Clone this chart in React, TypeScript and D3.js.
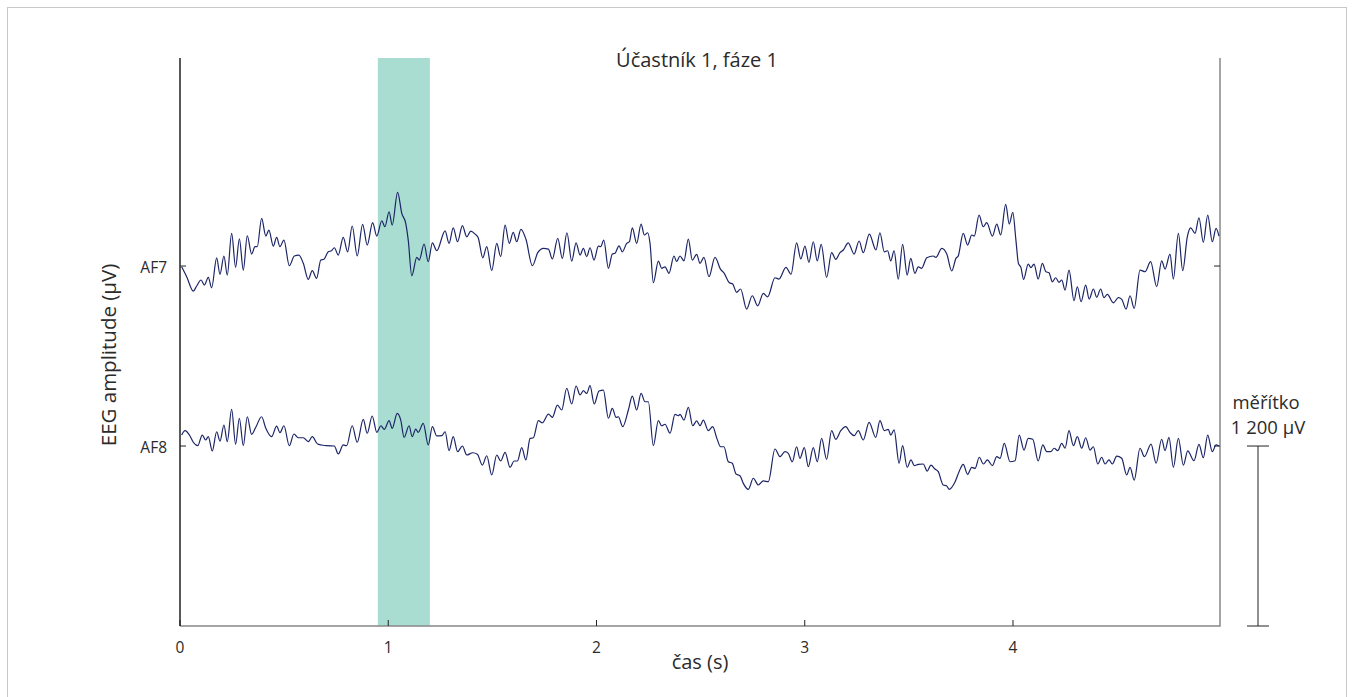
import React, { useEffect, useRef } from "react"
import * as d3 from "d3"

// EEG traces, [time (s), amplitude (µV)]
const af7: [number, number][] = [
  [0.008, -5], [0.032, -71], [0.064, -167], [0.080, -133], [0.101, -93], [0.117, -127], [0.136, -75], [0.152, -145],
  [0.176, 55], [0.192, -55], [0.211, 67], [0.227, -60], [0.248, 218], [0.267, -9], [0.285, 182], [0.304, -27],
  [0.323, 202], [0.344, 80], [0.360, 129], [0.371, 129], [0.392, 318], [0.412, 200], [0.427, 240], [0.448, 133],
  [0.464, 191], [0.480, 129], [0.499, 173], [0.525, 2], [0.549, 67], [0.571, 73], [0.592, 18], [0.616, -89],
  [0.635, -31], [0.656, -82], [0.676, 40], [0.691, 45], [0.712, 95], [0.728, 102], [0.741, 122], [0.760, 73],
  [0.784, 191], [0.805, 95], [0.827, 267], [0.851, 67], [0.877, 278], [0.899, 140], [0.925, 289], [0.945, 200],
  [0.969, 302], [0.984, 262], [1.004, 362], [1.019, 273], [1.045, 491], [1.065, 351], [1.084, 285], [1.096, 173],
  [1.113, -65], [1.137, 58], [1.149, 40], [1.172, 147], [1.192, 29], [1.212, 155], [1.233, 102], [1.273, 235],
  [1.292, 151], [1.312, 255], [1.333, 162], [1.356, 269], [1.377, 195], [1.396, 233], [1.417, 213], [1.432, 189],
  [1.454, 55], [1.473, 129], [1.497, -31], [1.521, 151], [1.540, 62], [1.561, 273], [1.581, 151], [1.600, 225],
  [1.617, 162], [1.637, 245], [1.661, 180], [1.692, 2], [1.718, 89], [1.745, 118], [1.769, 113], [1.788, 47],
  [1.814, 185], [1.836, 51], [1.858, 222], [1.881, 33], [1.902, 155], [1.921, 73], [1.937, 118], [1.953, 62],
  [1.969, 122], [1.988, 40], [2.009, 133], [2.020, 129], [2.035, 173], [2.057, -15], [2.076, 80], [2.089, 85],
  [2.108, 135], [2.124, 95], [2.145, 151], [2.158, 162], [2.172, 255], [2.193, 151], [2.214, 280], [2.230, 207],
  [2.246, 222], [2.257, 151], [2.273, -111], [2.297, 33], [2.313, -15], [2.329, -5], [2.348, -49], [2.372, 67],
  [2.385, 29], [2.401, 67], [2.420, 35], [2.441, 180], [2.460, 40], [2.481, 78], [2.497, 18], [2.516, 58],
  [2.540, -71], [2.569, 58], [2.596, -22], [2.612, -45], [2.638, -111], [2.654, -120], [2.673, -175], [2.692, -153],
  [2.721, -287], [2.748, -198], [2.774, -265], [2.801, -182], [2.822, -205], [2.857, -78], [2.876, -87], [2.910, -9],
  [2.934, -55], [2.961, 155], [2.981, 47], [3.001, 133], [3.020, 25], [3.041, 162], [3.060, 35], [3.079, 145],
  [3.105, -75], [3.129, 89], [3.149, 45], [3.169, 89], [3.185, 107], [3.209, 155], [3.237, 80], [3.261, 167],
  [3.281, 89], [3.310, 213], [3.342, 107], [3.361, 222], [3.382, 95], [3.398, 102], [3.413, 35], [3.429, 102],
  [3.449, -87], [3.470, 145], [3.492, -60], [3.509, 51], [3.529, -49], [3.545, -5], [3.561, -15], [3.586, 55],
  [3.617, 67], [3.630, 58], [3.658, 118], [3.682, 80], [3.706, -33], [3.726, 51], [3.737, 67], [3.761, 218],
  [3.782, 140], [3.802, 207], [3.814, 200], [3.837, 340], [3.857, 262], [3.874, 289], [3.901, 200], [3.922, 280],
  [3.941, 207], [3.965, 411], [3.982, 280], [3.999, 358], [4.014, 173], [4.026, 18], [4.038, -9], [4.051, -89],
  [4.073, 13], [4.086, -11], [4.101, 13], [4.121, -87], [4.141, 18], [4.158, -38], [4.173, -45], [4.189, -105],
  [4.205, -78], [4.221, -109], [4.234, -93], [4.250, -160], [4.269, -27], [4.293, -231], [4.309, -138], [4.327, -238],
  [4.349, -127], [4.366, -220], [4.386, -153], [4.402, -209], [4.421, -153], [4.437, -211], [4.453, -189], [4.482, -245],
  [4.506, -211], [4.522, -222], [4.543, -287], [4.562, -198], [4.582, -282], [4.610, -27], [4.634, -38], [4.661, 29],
  [4.690, -138], [4.714, 35], [4.730, -20], [4.754, 80], [4.770, -87], [4.794, 218], [4.815, -31], [4.837, 195],
  [4.853, 255], [4.874, 218], [4.893, 322], [4.914, 158], [4.935, 340], [4.957, 162], [4.975, 251], [4.989, 200],
]

const af8: [number, number][] = [
  [0.008, 73], [0.024, 102], [0.048, 67], [0.064, 25], [0.085, 2], [0.107, 73], [0.123, 40], [0.136, 62],
  [0.155, -33], [0.176, 95], [0.192, 33], [0.211, 140], [0.227, 29], [0.248, 245], [0.267, 11], [0.285, 185],
  [0.304, 2], [0.323, 195], [0.344, 78], [0.364, 125], [0.392, 195], [0.412, 118], [0.440, 62], [0.464, 133],
  [0.480, 89], [0.499, 135], [0.525, 2], [0.547, 80], [0.568, 55], [0.592, 55], [0.616, 29], [0.635, 62],
  [0.661, 13], [0.680, 7], [0.704, 2], [0.741, 0], [0.760, -53], [0.784, 7], [0.800, 2], [0.827, 135],
  [0.851, 25], [0.880, 178], [0.899, 85], [0.923, 200], [0.945, 91], [0.965, 135], [0.981, 111], [1.004, 169],
  [1.019, 118], [1.043, 218], [1.060, 173], [1.076, 58], [1.100, 135], [1.115, 62], [1.132, 113], [1.144, 91],
  [1.168, 151], [1.192, 7], [1.212, 129], [1.233, 67], [1.257, 69], [1.273, 95], [1.292, -31], [1.312, 62],
  [1.333, -38], [1.356, 0], [1.377, -60], [1.406, -45], [1.428, -55], [1.452, -127], [1.473, -65], [1.497, -193],
  [1.521, -60], [1.540, -100], [1.561, -42], [1.585, -142], [1.604, -100], [1.620, -100], [1.641, -11], [1.661, -93],
  [1.681, 51], [1.697, 55], [1.721, 169], [1.740, 155], [1.769, 213], [1.788, 191], [1.812, 273], [1.833, 240],
  [1.857, 385], [1.881, 280], [1.902, 400], [1.921, 340], [1.937, 369], [1.953, 351], [1.969, 402], [1.989, 280],
  [2.012, 367], [2.033, 373], [2.057, 185], [2.076, 251], [2.094, 191], [2.105, 195], [2.126, 129], [2.153, 240],
  [2.172, 333], [2.193, 240], [2.214, 351], [2.233, 295], [2.249, 295], [2.273, 2], [2.297, 169], [2.313, 135],
  [2.329, 145], [2.353, 85], [2.377, 211], [2.393, 202], [2.401, 211], [2.420, 173], [2.441, 258], [2.462, 135],
  [2.481, 167], [2.497, 135], [2.513, 173], [2.537, 102], [2.558, 129], [2.578, 51], [2.596, -5], [2.612, -5],
  [2.633, -105], [2.652, -115], [2.670, -187], [2.689, -198], [2.705, -249], [2.729, -289], [2.753, -215], [2.777, -260],
  [2.801, -233], [2.825, -238], [2.857, -20], [2.881, -71], [2.905, -38], [2.921, -49], [2.940, -105], [2.961, -5],
  [2.977, -82], [2.998, -11], [3.017, -138], [3.041, -11], [3.060, -105], [3.081, 51], [3.105, -89], [3.129, 102],
  [3.149, 45], [3.173, 102], [3.197, 129], [3.217, 91], [3.237, 69], [3.257, 102], [3.281, 40], [3.309, 158],
  [3.341, 58], [3.361, 169], [3.382, 102], [3.401, 111], [3.413, 73], [3.429, 107], [3.453, -115], [3.470, 2],
  [3.492, -142], [3.510, -93], [3.526, -131], [3.545, -122], [3.569, -120], [3.588, -167], [3.606, -127], [3.625, -153],
  [3.641, -171], [3.665, -260], [3.681, -265], [3.693, -289], [3.722, -238], [3.741, -171], [3.761, -122], [3.782, -189],
  [3.802, -142], [3.818, -149], [3.838, -75], [3.858, -120], [3.877, -93], [3.901, -131], [3.922, -71], [3.938, -82],
  [3.958, 18], [3.986, -105], [4.010, -98], [4.030, 73], [4.053, -27], [4.073, 51], [4.095, 45], [4.121, -100],
  [4.143, 7], [4.162, -38], [4.181, -38], [4.198, -15], [4.215, -31], [4.234, 18], [4.250, -15], [4.269, 102],
  [4.290, 2], [4.309, 62], [4.330, -15], [4.349, 55], [4.370, -27], [4.386, -5], [4.407, -120], [4.426, -75],
  [4.442, -120], [4.461, -93], [4.477, -120], [4.498, -67], [4.522, -82], [4.546, -193], [4.562, -142], [4.582, -227],
  [4.610, -15], [4.631, -71], [4.663, 13], [4.687, -115], [4.714, 45], [4.730, -31], [4.749, 58], [4.770, -142],
  [4.794, 51], [4.818, -127], [4.839, -33], [4.869, -98], [4.893, 11], [4.914, -78], [4.935, 73], [4.957, -38],
  [4.975, 7], [4.989, 0],
]

const channels = ["AF7", "AF8"]
const channelOffsets = [2400, 1200] // µV offset of each trace
const xTicks = [0, 1, 2, 3, 4]
const highlight = [0.95, 1.2] // seconds
const scaleBarValue = 1200 // µV
const title = "Účastník 1, fáze 1"
const xLabel = "čas (s)"
const yLabel = "EEG amplitude (µV)"

const App = () => {
  const ref = useRef(null)

  useEffect(() => {
    const svg = d3.select(ref.current)
    svg.selectAll("*").remove()

    const font = "'Open Sans', 'Noto Sans', sans-serif"
    const textColor = "#2b2b2b"
    const left = 180, right = 1220, top = 58, bottom = 626

    const xScale = d3.scaleLinear().domain([0, 4.994]).range([left, right])
    const yScale = d3.scaleLinear().domain([0, 3787]).range([bottom, top])

    // figure frame
    svg.append("rect")
      .attr("x", 7.5).attr("y", 7.5)
      .attr("width", 1339).attr("height", 700)
      .attr("fill", "white")
      .attr("stroke", "#c8c8c8")

    // highlighted interval
    svg.append("rect")
      .attr("x", xScale(highlight[0]))
      .attr("y", top)
      .attr("width", xScale(highlight[1]) - xScale(highlight[0]))
      .attr("height", bottom - top)
      .attr("fill", "#a9ddd1")

    // axes lines: bottom and right in gray, left dark (no top edge)
    svg.append("path")
      .attr("d", `M${left},${bottom}H${right}V${top}`)
      .attr("fill", "none")
      .attr("stroke", "#888")
      .attr("stroke-width", 1.5)

    svg.append("line")
      .attr("x1", left).attr("x2", left)
      .attr("y1", top).attr("y2", bottom)
      .attr("stroke", "#222").attr("stroke-width", 1.5)

    // x ticks
    const xAxisG = svg.append("g")
    xTicks.forEach(t => {
      xAxisG.append("line")
        .attr("x1", xScale(t)).attr("x2", xScale(t))
        .attr("y1", bottom).attr("y2", bottom - 6)
        .attr("stroke", "#222")
      xAxisG.append("text")
        .attr("x", xScale(t)).attr("y", 653)
        .attr("text-anchor", "middle")
        .attr("font-family", font).attr("font-size", 15.5)
        .attr("fill", textColor)
        .text(t)
    })

    // y ticks (channel names)
    channels.forEach((name, i) => {
      const y = yScale(channelOffsets[i])
      svg.append("line")
        .attr("x1", left).attr("x2", left + 6)
        .attr("y1", y).attr("y2", y).attr("stroke", "#222")
      svg.append("line")
        .attr("x1", right).attr("x2", right - 6)
        .attr("y1", y).attr("y2", y).attr("stroke", "#222")
      svg.append("text")
        .attr("x", 167).attr("y", y + 6.5)
        .attr("text-anchor", "end")
        .attr("font-family", font).attr("font-size", 15.5)
        .attr("fill", textColor)
        .text(name)
    })

    // traces
    const line = d3.line()
      .x(d => xScale(d[0]))
      .curve(d3.curveMonotoneX)
    ;[af7, af8].forEach((data, i) => {
      svg.append("path")
        .datum(data)
        .attr("d", line.y(d => yScale(d[1] + channelOffsets[i])))
        .attr("fill", "none")
        .attr("stroke", "#1c2566")
        .attr("stroke-width", 1.2)
    })

    // labels
    svg.append("text")
      .attr("x", 697).attr("y", 67)
      .attr("text-anchor", "middle")
      .attr("font-family", font).attr("font-size", 20)
      .attr("fill", textColor)
      .text(title)

    svg.append("text")
      .attr("x", 700).attr("y", 669)
      .attr("text-anchor", "middle")
      .attr("font-family", font).attr("font-size", 20)
      .attr("fill", textColor)
      .text(xLabel)

    svg.append("text")
      .attr("transform", `translate(116, 355) rotate(-90)`)
      .attr("text-anchor", "middle")
      .attr("font-family", font).attr("font-size", 20.5)
      .attr("fill", textColor)
      .text(yLabel)

    // scale bar
    const barX = 1258
    const y0 = yScale(0), y1 = yScale(scaleBarValue)
    const barG = svg.append("g").attr("stroke", "#222")
    barG.append("line").attr("x1", barX).attr("x2", barX).attr("y1", y0).attr("y2", y1)
    barG.append("line").attr("x1", barX - 11).attr("x2", barX + 11).attr("y1", y0).attr("y2", y0)
    barG.append("line").attr("x1", barX - 11).attr("x2", barX + 11).attr("y1", y1).attr("y2", y1)

    svg.append("text")
      .attr("x", 1266).attr("y", 409)
      .attr("text-anchor", "middle")
      .attr("font-family", font).attr("font-size", 18.5)
      .attr("fill", textColor)
      .text("měřítko")
    svg.append("text")
      .attr("x", 1268).attr("y", 434)
      .attr("text-anchor", "middle")
      .attr("font-family", font).attr("font-size", 18.5)
      .attr("fill", textColor)
      .text("1 200 µV")
  }, [])

  return (
    <svg ref={ref} width={1354} height={697}
      style={{ position: "absolute", left: 0, top: 0 }} />
  )
}

export default App
